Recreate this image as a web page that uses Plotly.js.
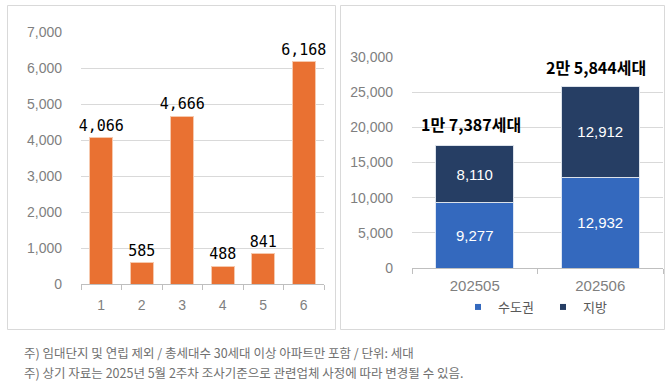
<!DOCTYPE html>
<html>
<head>
<meta charset="utf-8">
<script src="https://cdn.plot.ly/plotly-3.0.1.min.js"></script>
<style>
  html, body { margin: 0; padding: 0; background: #ffffff; }
  #chart { width: 668px; height: 385px; }
</style>
</head>
<body>
<div id="chart"></div>
<script>
// ---- data ----
const leftCategories = ['1', '2', '3', '4', '5', '6'];
const leftValues = [4066, 585, 4666, 488, 841, 6168];

const rightCategories = ['202505', '202506'];
const metroValues = [9277, 12932];   // 수도권
const localValues = [8110, 12912];   // 지방
const seriesNames = ['수도권', '지방'];
const totalLabels = ['1만 7,387세대', '2만 5,844세대'];

const footnotes = [
  '주) 임대단지 및 연립 제외 / 총세대수 30세대 이상 아파트만 포함 / 단위: 세대',
  '주) 상기 자료는 2025년 5월 2주차 조사기준으로 관련업체 사정에 따라 변경될 수 있음.'
];

// ---- styles ----
const W = 668, H = 385;
const px = v => v / W;
const py = v => 1 - v / H;
const ORANGE = '#E97132';
const BLUE = '#3469BE';
const NAVY = '#263E64';
const GRID = '#d9d9d9';
const TICK = '#7f7f7f';
const BASE_FONT = 'Liberation Sans, Arial, Noto Sans CJK KR, sans-serif';

const fmt = v => v.toLocaleString('en-US');

const traces = [
  {
    type: 'bar', x: leftCategories, y: leftValues,
    xaxis: 'x', yaxis: 'y', width: 0.57,
    marker: { color: ORANGE, line: { color: '#f6c9ae', width: 1 } },
    text: leftValues.map(fmt), textposition: 'outside', cliponaxis: false, constraintext: 'none',
    textfont: { family: 'DejaVu Sans Mono, monospace', size: 15, color: '#000000' },
    showlegend: false, hoverinfo: 'skip'
  },
  {
    type: 'bar', x: rightCategories, y: metroValues, name: seriesNames[0],
    xaxis: 'x2', yaxis: 'y2', width: 0.62,
    marker: { color: BLUE, line: { color: '#dce6f5', width: 1 } },
    text: metroValues.map(fmt), textposition: 'inside', insidetextanchor: 'middle', constraintext: 'none',
    textfont: { family: BASE_FONT, size: 15, color: '#ffffff' },
    showlegend: false, hoverinfo: 'skip'
  },
  {
    type: 'bar', x: rightCategories, y: localValues, name: seriesNames[1],
    xaxis: 'x2', yaxis: 'y2', width: 0.62,
    marker: { color: NAVY, line: { color: '#dce2ea', width: 1 } },
    text: localValues.map(fmt), textposition: 'inside', insidetextanchor: 'middle', constraintext: 'none',
    textfont: { family: BASE_FONT, size: 15, color: '#ffffff' },
    showlegend: false, hoverinfo: 'skip'
  },
  // legend proxies (small square swatches)
  {
    type: 'scatter', mode: 'markers', x: [rightCategories[0]], y: [null], name: seriesNames[0],
    xaxis: 'x2', yaxis: 'y2', marker: { symbol: 'square', size: 6, color: BLUE },
    showlegend: true, hoverinfo: 'skip'
  },
  {
    type: 'scatter', mode: 'markers', x: [rightCategories[0]], y: [null], name: seriesNames[1],
    xaxis: 'x2', yaxis: 'y2', marker: { symbol: 'square', size: 6, color: NAVY },
    showlegend: true, hoverinfo: 'skip'
  }
];

const totals = metroValues.map((v, i) => v + localValues[i]);

const annotations = totals.map((t, i) => ({
  xref: 'x2', yref: 'y2', x: i, y: t,
  text: totalLabels[i], showarrow: false, yanchor: 'bottom', yshift: i === 0 ? 8 : 5, xshift: -4,
  font: { family: 'Noto Sans CJK KR, sans-serif', size: 16, color: '#000000', weight: 'bold' }
})).concat(footnotes.map((f, i) => ({
  xref: 'paper', yref: 'paper', x: px(22), y: py(352 + i * 20),
  xanchor: 'left', yanchor: 'middle', showarrow: false, text: f,
  font: { family: 'Noto Sans CJK KR, sans-serif', size: 12.5, color: '#707070' }
})));

const shapes = [
  { type: 'rect', xref: 'paper', yref: 'paper', x0: px(7.5), x1: px(335.5), y0: py(329.5), y1: py(5.5),
    line: { color: '#d9d9d9', width: 1 }, fillcolor: 'rgba(0,0,0,0)' },
  { type: 'rect', xref: 'paper', yref: 'paper', x0: px(340.5), x1: px(664.5), y0: py(329.5), y1: py(5.5),
    line: { color: '#d9d9d9', width: 1 }, fillcolor: 'rgba(0,0,0,0)' }
];

const yCommon = {
  showgrid: true, gridcolor: GRID, gridwidth: 1, zeroline: false,
  showline: false, ticks: '', tickformat: ',d',
  tickfont: { family: BASE_FONT, size: 14, color: TICK }, ticklabelstandoff: 18
};
const xCommon = {
  type: 'category', showline: true, linecolor: '#bfbfbf', linewidth: 1,
  ticks: 'outside', tickson: 'boundaries', ticklen: 5, tickcolor: '#bfbfbf',
  showgrid: false, zeroline: false, tickangle: 0,
  tickfont: { family: BASE_FONT, size: 14, color: TICK }
};

const layout = {
  width: W, height: H,
  margin: { l: 0, r: 0, t: 0, b: 0 },
  paper_bgcolor: '#ffffff', plot_bgcolor: 'rgba(0,0,0,0)',
  font: { family: BASE_FONT },
  barmode: 'stack',
  xaxis: Object.assign({}, xCommon, { domain: [px(81), px(324)], anchor: 'y', ticklabelstandoff: 8 }),
  yaxis: Object.assign({}, yCommon, { domain: [py(284), py(32)], range: [0, 7000], dtick: 1000, anchor: 'x' }),
  xaxis2: Object.assign({}, xCommon, { domain: [px(412), px(663)], anchor: 'y2', ticklabelstandoff: 4,
    range: [-0.5, 1.5], tickfont: { family: BASE_FONT, size: 15, color: TICK } }),
  yaxis2: Object.assign({}, yCommon, { domain: [py(268), py(57)], range: [0, 30000], dtick: 5000, anchor: 'x2' }),
  showlegend: true,
  legend: {
    orientation: 'h', x: px(458), xanchor: 'left', y: py(307), yanchor: 'middle',
    font: { family: 'Noto Sans CJK KR, sans-serif', size: 13, color: '#595959' },
    itemwidth: 30, entrywidth: 40, entrywidthmode: 'pixels',
    bgcolor: 'rgba(0,0,0,0)', traceorder: 'normal'
  },
  annotations: annotations,
  shapes: shapes
};

Plotly.newPlot('chart', traces, layout, { staticPlot: true, displayModeBar: false });
</script>
</body>
</html>
